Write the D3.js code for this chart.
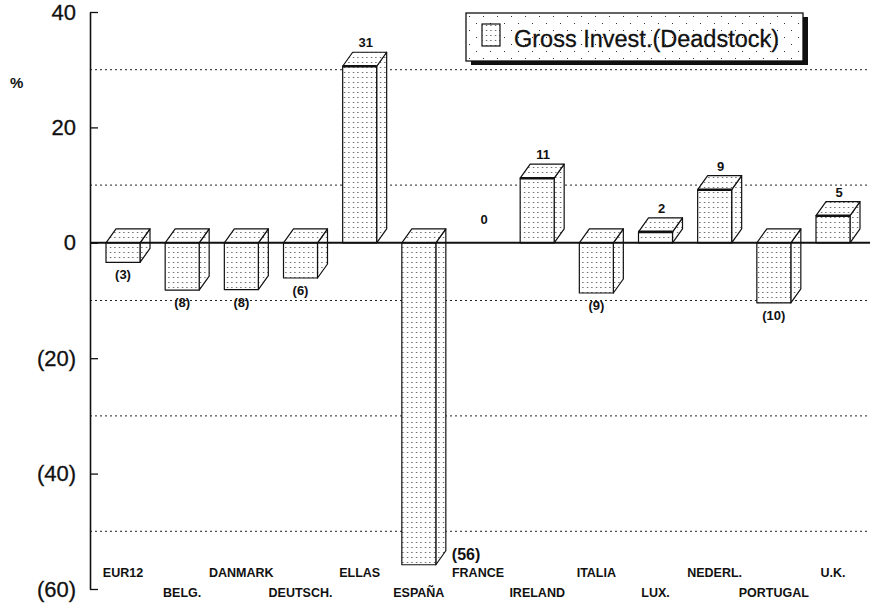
<!DOCTYPE html>
<html>
<head>
<meta charset="utf-8">
<script src="https://cdn.jsdelivr.net/npm/d3@7"></script>
<style>
  html, body { margin: 0; padding: 0; background: #fff; }
  svg { display: block; font-family: "Liberation Sans", Arial, Helvetica, sans-serif; }
</style>
</head>
<body>
<svg id="chart" width="870" height="604"></svg>
<script>
const categories = ['EUR12', 'BELG.', 'DANMARK', 'DEUTSCH.', 'ELLAS', 'ESPAÑA', 'FRANCE',
  'IRELAND', 'ITALIA', 'LUX.', 'NEDERL.', 'PORTUGAL', 'U.K.']
const values = [-3.4, -8.2, -8.1, -6.1, 30.6, -55.8, 0, 11.2, -8.7, 1.9, 9.2, -10.4, 4.7]
const valueLabels = ['(3)', '(8)', '(8)', '(6)', '31', '(56)', '0', '11', '(9)', '2', '9', '(10)', '5']
const yTicks = [40, 20, 0, -20, -40, -60]
const yTickLabels = ['40', '20', '0', '(20)', '(40)', '(60)']
const gridValues = [30, 10, -10, -30, -50]
const seriesName = 'Gross Invest.(Deadstock)'

const width = 870
const height = 604
const axisX = 90
const barW = 34
const dx = 10   // depth offset
const dy = -14

const svg = d3.select('#chart')

const y = d3.scaleLinear().domain([-60, 40]).range([589, 12])
const x = d3.scalePoint().domain(categories).range([123, 833])

// dot patterns
const defs = svg.append('defs')
const dots = defs.append('pattern')
  .attr('id', 'dots')
  .attr('patternUnits', 'userSpaceOnUse')
  .attr('width', 4.5)
  .attr('height', 5)
dots.append('rect').attr('width', 4.5).attr('height', 5).attr('fill', '#fff')
dots.append('rect').attr('x', 2).attr('y', 2).attr('width', 1).attr('height', 1).attr('fill', '#222')

const sparse = defs.append('pattern')
  .attr('id', 'sparse')
  .attr('patternUnits', 'userSpaceOnUse')
  .attr('width', 14)
  .attr('height', 14)
sparse.append('rect').attr('width', 14).attr('height', 14).attr('fill', '#fff')
sparse.append('rect').attr('x', 3).attr('y', 3).attr('width', 1).attr('height', 1).attr('fill', '#333')
sparse.append('rect').attr('x', 10).attr('y', 10).attr('width', 1).attr('height', 1).attr('fill', '#333')

// grid lines
svg.append('g')
  .selectAll('line')
  .data(gridValues)
  .join('line')
  .attr('x1', axisX)
  .attr('x2', width)
  .attr('y1', (d) => y(d))
  .attr('y2', (d) => y(d))
  .attr('stroke', '#222')
  .attr('stroke-width', 1)
  .attr('stroke-dasharray', '2,3')

// y axis
const yAxis = d3.axisLeft(y)
  .tickValues(yTicks)
  .tickFormat((d, i) => yTickLabels[i])
  .tickSizeInner(-8)
  .tickSizeOuter(0)
  .tickPadding(14)
const axisG = svg.append('g')
  .attr('transform', `translate(${axisX},0)`)
  .call(yAxis)
axisG.select('.domain').attr('stroke', '#111').attr('stroke-width', 1.6)
axisG.selectAll('.tick line').attr('stroke', '#111').attr('stroke-width', 1.3)
axisG.selectAll('.tick text')
  .attr('font-size', 22)
  .attr('font-family', '"Liberation Sans", Arial, sans-serif')
  .attr('fill', '#111')
  .attr('stroke', '#111')
  .attr('stroke-width', 0.3)

svg.append('text')
  .attr('x', 10)
  .attr('y', 88)
  .attr('font-size', 15)
  .attr('font-weight', 'bold')
  .attr('fill', '#111')
  .text('%')

// bars
const bars = svg.append('g')
categories.forEach((c, i) => {
  const v = values[i]
  if (v === 0) return
  const cx = x(c)
  const x0 = cx - barW / 2
  const x1 = cx + barW / 2
  const yTop = y(Math.max(v, 0))
  const yBot = y(Math.min(v, 0))
  const g = bars.append('g')
    .attr('stroke', '#111')
    .attr('stroke-width', 1.2)
    .attr('stroke-linejoin', 'round')
  g.append('polygon')
    .attr('points', [[x1, yTop], [x1 + dx, yTop + dy], [x1 + dx, yBot + dy], [x1, yBot]].join(' '))
    .attr('fill', 'url(#dots)')
  g.append('polygon')
    .attr('points', [[x0, yTop], [x0 + dx, yTop + dy], [x1 + dx, yTop + dy], [x1, yTop]].join(' '))
    .attr('fill', 'url(#dots)')
  g.append('rect')
    .attr('x', x0)
    .attr('y', yTop)
    .attr('width', barW)
    .attr('height', yBot - yTop)
    .attr('fill', 'url(#dots)')
  if (v > 0) {
    g.append('line')
      .attr('x1', x0).attr('x2', x1)
      .attr('y1', yTop).attr('y2', yTop)
      .attr('stroke-width', 2.6)
  }
})

// zero line
svg.append('line')
  .attr('x1', axisX)
  .attr('x2', width)
  .attr('y1', y(0))
  .attr('y2', y(0))
  .attr('stroke', '#111')
  .attr('stroke-width', 2)

// value labels
svg.append('g')
  .selectAll('text')
  .data(categories)
  .join('text')
  .attr('font-weight', 'bold')
  .attr('fill', '#111')
  .each(function (c, i) {
    const v = values[i]
    const cx = x(c)
    const t = d3.select(this).text(valueLabels[i])
    if (v >= 0) {
      t.attr('x', cx + dx / 2 + 1)
        .attr('y', y(v) + dy - 5)
        .attr('text-anchor', 'middle')
        .attr('font-size', 13)
    } else if (v < -45) {
      // not enough room below, put it beside the bar
      t.attr('x', cx + barW / 2 + dx + 6)
        .attr('y', y(v) - 5)
        .attr('text-anchor', 'start')
        .attr('font-size', 16)
    } else {
      t.attr('x', cx)
        .attr('y', y(v) + 17)
        .attr('text-anchor', 'middle')
        .attr('font-size', 13)
    }
  })

// category labels, staggered in two rows
svg.append('g')
  .selectAll('text')
  .data(categories)
  .join('text')
  .attr('x', (d) => x(d))
  .attr('y', (d, i) => (i % 2 === 0 ? 577 : 597))
  .attr('text-anchor', 'middle')
  .attr('font-size', 12.5)
  .attr('font-weight', 'bold')
  .attr('fill', '#111')
  .text((d) => d)

// legend
const legend = svg.append('g').attr('transform', 'translate(466,13)')
legend.append('rect')
  .attr('x', 5).attr('y', 4)
  .attr('width', 337).attr('height', 48)
  .attr('fill', '#111')
legend.append('rect')
  .attr('width', 337).attr('height', 48)
  .attr('fill', 'url(#sparse)')
  .attr('stroke', '#111')
  .attr('stroke-width', 1.3)
legend.append('rect')
  .attr('x', 16).attr('y', 11)
  .attr('width', 18).attr('height', 22)
  .attr('fill', 'url(#dots)')
  .attr('stroke', '#111')
  .attr('stroke-width', 1.2)
legend.append('text')
  .attr('x', 48).attr('y', 34)
  .attr('font-size', 23.5)
  .attr('fill', '#111')
  .attr('stroke', '#111')
  .attr('stroke-width', 0.3)
  .text(seriesName)
</script>
</body>
</html>
